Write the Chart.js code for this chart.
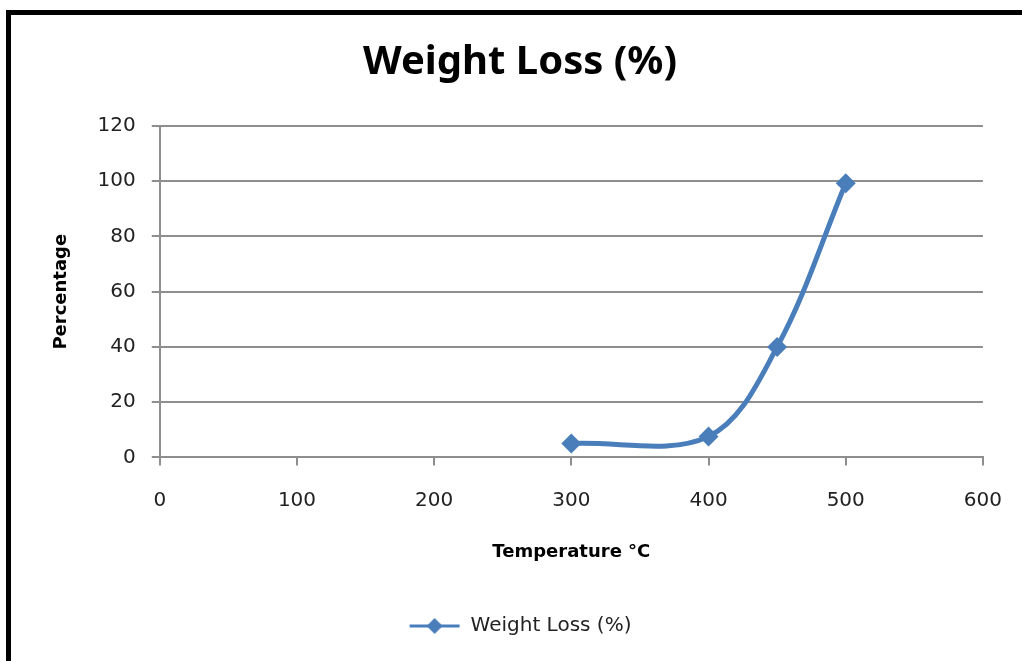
<!DOCTYPE html>
<html>
<head>
<meta charset="utf-8">
<script src="https://cdn.jsdelivr.net/npm/chart.js@4/dist/chart.umd.min.js"></script>
<style>
  html, body { margin: 0; padding: 0; background: #fff; }
  #wrap { position: relative; width: 1022px; height: 661px; overflow: hidden; }
  #frame { position: absolute; left: 6px; top: 10px; width: 1100px; height: 700px;
           border-left: 5px solid #000; border-top: 5px solid #000; }
  #chart { position: absolute; left: 0; top: 0; }
</style>
</head>
<body>
<div id="wrap">
  <div id="frame"></div>
  <canvas id="chart" width="1022" height="661"></canvas>
</div>
<script>
// values
const temperatures = [300, 400, 450, 500];
const weightLoss = [5, 7.6, 40, 99.3];
const seriesName = 'Weight Loss (%)';
const xTicks = [0, 100, 200, 300, 400, 500, 600];
const yTicks = [0, 20, 40, 60, 80, 100, 120];

const blue = '#4A7EBB';
const gridGray = '#8e8e8e';

// legend sample: short line with a diamond on it, like Excel does
const legendIcon = document.createElement('canvas');
legendIcon.width = 52;
legendIcon.height = 20;
(function () {
  const c = legendIcon.getContext('2d');
  c.strokeStyle = blue;
  c.lineWidth = 3;
  c.beginPath();
  c.moveTo(1, 10);
  c.lineTo(51, 10);
  c.stroke();
  c.fillStyle = blue;
  c.beginPath();
  c.moveTo(26, 2);
  c.lineTo(34, 10);
  c.lineTo(26, 18);
  c.lineTo(18, 10);
  c.closePath();
  c.fill();
})();

const points = temperatures.map((t, i) => ({ x: t, y: weightLoss[i] }));

new Chart(document.getElementById('chart'), {
  type: 'line',
  data: {
    datasets: [{
      label: seriesName,
      data: points,
      borderColor: blue,
      backgroundColor: blue,
      borderWidth: 5,
      tension: 0.35,
      pointStyle: 'rectRot',
      pointRadius: 10,
      pointHoverRadius: 10,
      pointBorderWidth: 0,
      fill: false
    }]
  },
  options: {
    responsive: false,
    animation: false,
    layout: { padding: { left: 51, right: 33, top: 39, bottom: 15 } },
    plugins: {
      title: {
        display: true,
        text: seriesName,
        color: '#000',
        font: { family: 'Noto Sans', size: 40, weight: 'bold' },
        padding: { top: 0, bottom: 39 }
      },
      legend: {
        position: 'bottom',
        labels: {
          usePointStyle: true,
          pointStyle: legendIcon,
          pointStyleWidth: 52,
          color: '#222',
          font: { family: 'DejaVu Sans', size: 20 },
          padding: 6
        }
      },
      tooltip: { enabled: false }
    },
    scales: {
      x: {
        type: 'linear',
        min: 0,
        max: 600,
        afterBuildTicks: axis => { axis.ticks = xTicks.map(v => ({ value: v })); },
        grid: { drawOnChartArea: false, drawTicks: true, tickLength: 8, color: gridGray, lineWidth: 2 },
        border: { display: true, color: gridGray, width: 2 },
        ticks: { color: '#222', font: { family: 'DejaVu Sans', size: 20, lineHeight: 1.5 }, padding: 20 },
        title: {
          display: true,
          text: 'Temperature °C',
          color: '#000',
          font: { family: 'DejaVu Sans', size: 18, weight: 'bold' },
          padding: { top: 6, bottom: 47 }
        }
      },
      y: {
        min: 0,
        max: 120,
        afterBuildTicks: axis => { axis.ticks = yTicks.map(v => ({ value: v })); },
        grid: { color: gridGray, lineWidth: 2, tickLength: 8 },
        border: { display: true, color: gridGray, width: 2 },
        ticks: { color: '#222', font: { family: 'DejaVu Sans', size: 20 }, padding: 16 },
        title: {
          display: true,
          text: 'Percentage',
          color: '#000',
          font: { family: 'DejaVu Sans', size: 18, weight: 'bold' },
          padding: { top: 0, bottom: 9 }
        }
      }
    }
  }
});
</script>
</body>
</html>
